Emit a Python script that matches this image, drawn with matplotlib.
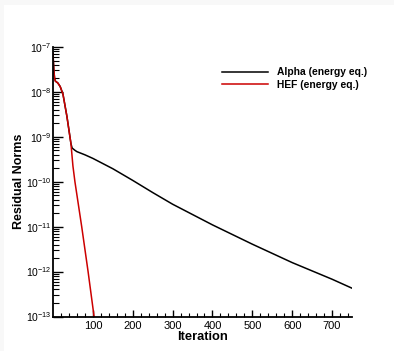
import numpy as np
import matplotlib
matplotlib.use("Agg")
import matplotlib.pyplot as plt
from matplotlib.ticker import FixedLocator, LogLocator, FuncFormatter, NullFormatter
from matplotlib.patches import Rectangle

plt.rcParams['font.family'] = ['Liberation Sans', 'DejaVu Sans']
plt.rcParams['mathtext.fontset'] = 'custom'
plt.rcParams['mathtext.rm'] = 'Liberation Sans'
plt.rcParams['mathtext.it'] = 'Liberation Sans'
plt.rcParams['mathtext.bf'] = 'Liberation Sans:bold'
plt.rcParams['mathtext.default'] = 'regular'

# Data (iteration, residual)
alpha_iter = [0, 2, 4, 6, 12, 18, 25, 30, 35, 40, 45, 48, 55, 60, 80, 100, 150, 200, 250, 300, 400, 500, 600, 700, 750]
alpha_log = [-7.15, -7.5, -7.7, -7.76, -7.8, -7.88, -8.05, -8.3, -8.55, -8.85, -9.15, -9.25, -9.3, -9.33, -9.4, -9.48, -9.71, -9.97, -10.24, -10.5, -10.96, -11.39, -11.8, -12.17, -12.37]
hef_iter = [0, 2, 4, 6, 12, 18, 25, 30, 35, 40, 45, 50, 55, 72, 88, 103]
hef_log = [-7.15, -7.5, -7.7, -7.76, -7.8, -7.88, -8.05, -8.3, -8.55, -8.85, -9.15, -9.65, -10.0, -11.0, -12.0, -13.0]
xticks = [100, 200, 300, 400, 500, 600, 700]
labels = ["Alpha (energy eq.)", "HEF (energy eq.)"]

alpha_res = [10.0 ** v for v in alpha_log]
hef_res = [10.0 ** v for v in hef_log]

fig = plt.figure(figsize=(3.94, 3.51), dpi=100, facecolor='#f8f8f8')
fig.patches.append(Rectangle((4 / 394, 0), 1, 1 - 5 / 351, transform=fig.transFigure,
                             facecolor='white', edgecolor='none', zorder=-5))
ax = fig.add_axes([53 / 394, 1 - 316.5 / 351, (352 - 53) / 394, (316.5 - 47) / 351])
ax.set_facecolor('none')
ax.set_zorder(2)

ax.plot(alpha_iter, alpha_res, color='black', lw=1.1, label=labels[0])
ax.plot(hef_iter, hef_res, color='#cc0000', lw=1.1, label=labels[1])

ax.set_yscale('log')
ax.set_xlim(0, 750)
ax.set_ylim(1e-13, 1e-7)

ax.xaxis.set_major_locator(FixedLocator(xticks))
ax.xaxis.set_minor_locator(FixedLocator([v for v in range(20, 750, 20) if v % 100 != 0]))
ax.yaxis.set_major_locator(LogLocator(base=10, numticks=20))
ax.yaxis.set_minor_locator(LogLocator(base=10, subs=np.arange(2, 10), numticks=20))
ax.yaxis.set_minor_formatter(NullFormatter())

def yfmt(v, pos):
    e = int(np.round(np.log10(v)))
    return r'10$^{%d}$' % e
ax.yaxis.set_major_formatter(FuncFormatter(yfmt))

for s in ['top', 'right']:
    ax.spines[s].set_visible(False)
for s in ['left', 'bottom']:
    ax.spines[s].set_linewidth(1.3)

ax.tick_params(axis='x', which='major', direction='in', length=5, width=1, labelsize=8, pad=3)
ax.tick_params(axis='x', which='minor', direction='in', length=3, width=0.8)
ax.tick_params(axis='y', which='major', direction='in', length=7, width=1, labelsize=7.5, pad=1)
ax.tick_params(axis='y', which='minor', direction='in', length=4, width=0.8)

ax.set_xlabel('Iteration', fontsize=9.3, fontweight='bold', labelpad=0)
ax.set_ylabel('Residual Norms', fontsize=9, fontweight='bold')
ax.yaxis.set_label_coords(-0.092, 0.5)

leg = ax.legend(loc='upper left', bbox_to_anchor=(0.55, 0.94), frameon=False,
                prop={'size': 7.4, 'weight': 'bold'}, handlelength=4.5,
                handletextpad=0.9, labelspacing=0.25, borderaxespad=0)

fig.savefig('out.png', dpi=100, facecolor=fig.get_facecolor())
